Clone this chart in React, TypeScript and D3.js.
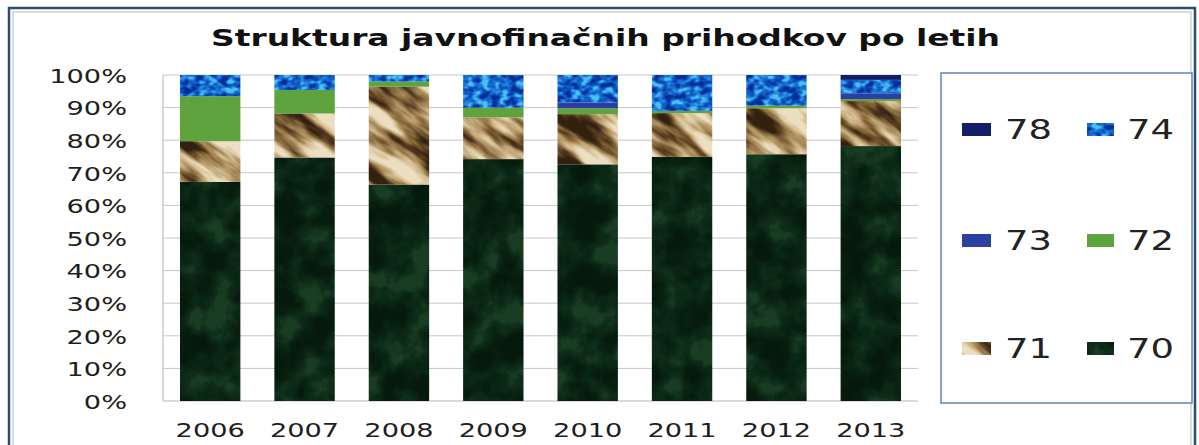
import React from 'react';
import * as d3 from 'd3';

// Revenue structure by year (share of total, %), stacked bottom to top: 70, 71, 72, 73, 74, 78
const years = ['2006', '2007', '2008', '2009', '2010', '2011', '2012', '2013'];
const share70 = [67.2, 74.7, 66.4, 74.2, 72.6, 74.9, 75.7, 78.2];
const share71 = [12.5, 13.5, 30.0, 12.8, 15.4, 13.4, 14.1, 13.8];
const share72 = [13.8, 7.2, 1.6, 3.0, 1.8, 0.7, 0.8, 0.6];
const share73 = [0, 0, 0, 0, 1.8, 0, 0, 1.8];
const share74 = [6.5, 4.6, 2.0, 10.0, 8.4, 11.0, 9.4, 4.1];
const share78 = [0, 0, 0, 0, 0, 0, 0, 1.5];
const seriesKeys = ['70', '71', '72', '73', '74', '78'];
const yTicks = [0, 10, 20, 30, 40, 50, 60, 70, 80, 90, 100];
const legendRows = [
  ['78', '74'],
  ['73', '72'],
  ['71', '70'],
];
const title = 'Struktura javnofinačnih prihodkov po letih';

const W = 1199;
const H = 445;
const FONT = 'DejaVu Sans, Verdana, sans-serif';

const fills: Record<string, string> = {
  '70': 'url(#tex70)',
  '71': 'url(#tex71)',
  '72': '#5ea33d',
  '73': '#2b40a0',
  '74': 'url(#tex74)',
  '78': '#101f68',
};

// Text drawn horizontally widened around its anchor point
function WideText(props: {
  x: number;
  y: number;
  sx: number;
  size: number;
  anchor?: string;
  weight?: string | number;
  fill?: string;
  children: React.ReactNode;
}) {
  const { x, y, sx, size, anchor = 'start', weight = 'normal', fill = '#1e1e1e', children } = props;
  return (
    <text
      transform={`translate(${x},${y}) scale(${sx},1)`}
      fontFamily={FONT}
      fontSize={size}
      fontWeight={weight}
      textAnchor={anchor}
      dominantBaseline="central"
      fill={fill}
    >
      {children}
    </text>
  );
}

export default function App() {
  const rows = years.map((year, i) => ({
    year,
    '70': share70[i],
    '71': share71[i],
    '72': share72[i],
    '73': share73[i],
    '74': share74[i],
    '78': share78[i],
  }));
  const stacked = d3.stack<any>().keys(seriesKeys)(rows);

  const x = d3.scaleBand<string>().domain(years).range([163, 918]).paddingInner(0.36).paddingOuter(0.18);
  const y = d3.scaleLinear().domain([0, 100]).range([401, 75]);

  const legendCols = [
    { sw: 962, swW: 29, tx: 1005 },
    { sw: 1087, swW: 27, tx: 1127 },
  ];
  const legendY = [130, 241, 349];

  return (
    <svg
      width={W}
      height={H}
      viewBox={`0 0 ${W} ${H}`}
      style={{ position: 'absolute', left: 0, top: 0, background: '#fff' }}
    >
      <defs>
        {/* dark green marble */}
        <filter
          id="tex70"
          filterUnits="userSpaceOnUse"
          x="0"
          y="0"
          width={W}
          height={H}
          colorInterpolationFilters="sRGB"
        >
          <feTurbulence type="fractalNoise" baseFrequency="0.03" numOctaves="4" seed="11" result="n" />
          <feColorMatrix
            in="n"
            type="matrix"
            values="2.4 0 0 0 -0.7  2.4 0 0 0 -0.7  2.4 0 0 0 -0.7  0 0 0 0 1"
            result="g"
          />
          <feComponentTransfer in="g" result="c">
            <feFuncR type="table" tableValues="0.02 0.03 0.04 0.06 0.1" />
            <feFuncG type="table" tableValues="0.1 0.12 0.15 0.18 0.24" />
            <feFuncB type="table" tableValues="0.05 0.06 0.08 0.1 0.14" />
          </feComponentTransfer>
          <feComposite in="c" in2="SourceGraphic" operator="in" />
        </filter>

        {/* blue water-drop texture */}
        <filter
          id="tex74"
          filterUnits="userSpaceOnUse"
          x="0"
          y="0"
          width={W}
          height={H}
          colorInterpolationFilters="sRGB"
        >
          <feTurbulence type="fractalNoise" baseFrequency="0.11 0.16" numOctaves="2" seed="4" result="n" />
          <feColorMatrix
            in="n"
            type="matrix"
            values="2.6 0 0 0 -0.8  2.6 0 0 0 -0.8  2.6 0 0 0 -0.8  0 0 0 0 1"
            result="g"
          />
          <feComponentTransfer in="g" result="c">
            <feFuncR type="table" tableValues="0.03 0.05 0.08 0.14 0.3" />
            <feFuncG type="table" tableValues="0.18 0.28 0.4 0.55 0.75" />
            <feFuncB type="table" tableValues="0.6 0.7 0.8 0.88 0.95" />
          </feComponentTransfer>
          <feComposite in="c" in2="SourceGraphic" operator="in" />
        </filter>

        {/* rock texture, streaked diagonally */}
        <filter
          id="rockNoise"
          filterUnits="userSpaceOnUse"
          x="0"
          y="0"
          width="1400"
          height="1400"
          colorInterpolationFilters="sRGB"
        >
          <feTurbulence
            type="fractalNoise"
            baseFrequency="0.012 0.05"
            numOctaves="4"
            seed="23"
            stitchTiles="stitch"
            result="n"
          />
          <feColorMatrix
            in="n"
            type="matrix"
            values="2.6 0 0 0 -0.75  2.6 0 0 0 -0.75  2.6 0 0 0 -0.75  0 0 0 0 1"
            result="g"
          />
          <feComponentTransfer in="g">
            <feFuncR type="table" tableValues="0.2 0.33 0.5 0.64 0.76 0.86 0.93" />
            <feFuncG type="table" tableValues="0.13 0.23 0.38 0.52 0.66 0.78 0.87" />
            <feFuncB type="table" tableValues="0.06 0.12 0.22 0.34 0.48 0.62 0.76" />
          </feComponentTransfer>
        </filter>
        <pattern
          id="tex71"
          patternUnits="userSpaceOnUse"
          width="1400"
          height="1400"
          patternTransform="rotate(35)"
        >
          <rect width="1400" height="1400" fill="#b49a76" filter="url(#rockNoise)" />
        </pattern>
      </defs>

      <rect x={0} y={0} width={W} height={H} fill="#ffffff" />

      {/* outer frame */}
      <rect x={9} y={8} width={1186} height={470} fill="none" stroke="#2f4c6b" strokeWidth={2.5} />
      <rect x={13} y={12} width={1178} height={470} fill="none" stroke="#a9bed4" strokeWidth={1} />

      {/* title */}
      <text
        x={211}
        y={46}
        fontFamily={FONT}
        fontSize={22.5}
        fontWeight="bold"
        fill="#111"
        textLength={789}
        lengthAdjust="spacingAndGlyphs"
      >
        {title}
      </text>

      {/* gridlines */}
      <g>
        {yTicks
          .filter((t) => t > 0)
          .map((t) => (
            <line
              key={t}
              x1={163}
              x2={918}
              y1={y(t)}
              y2={y(t)}
              stroke="#c6c6c6"
              strokeWidth={1}
            />
          ))}
        <line x1={163} x2={163} y1={y(100)} y2={y(0)} stroke="#b5b5b5" strokeWidth={1} />
        <line x1={163} x2={918} y1={y(0)} y2={y(0)} stroke="#b5b5b5" strokeWidth={1} />
      </g>

      {/* y axis labels */}
      <g>
        {yTicks.map((t) => (
          <WideText key={t} x={127} y={y(t) + 1} sx={1.36} size={20} anchor="end">
            {`${t}%`}
          </WideText>
        ))}
      </g>

      {/* stacked bars */}
      <g>
        {stacked.map((layer) => (
          <g key={layer.key}>
            {layer.map((d: any) => {
              const h = y(d[0]) - y(d[1]);
              if (h <= 0) return null;
              const key = layer.key;
              const isFilter = key === '70' || key === '74';
              return (
                <rect
                  key={d.data.year}
                  x={x(d.data.year)}
                  y={y(d[1])}
                  width={x.bandwidth()}
                  height={h}
                  fill={isFilter ? '#000' : fills[key]}
                  filter={isFilter ? fills[key] : undefined}
                />
              );
            })}
          </g>
        ))}
      </g>

      {/* x axis labels */}
      <g>
        {years.map((yr) => (
          <WideText key={yr} x={(x(yr) as number) + x.bandwidth() / 2} y={430} sx={1.36} size={20} anchor="middle">
            {yr}
          </WideText>
        ))}
      </g>

      {/* legend */}
      <rect x={941} y={73} width={251} height={330} fill="#fff" stroke="#5d86bb" strokeWidth={1.5} />
      {legendRows.map((row, ri) =>
        row.map((key, ci) => {
          const col = legendCols[ci];
          const cy = legendY[ri];
          const isFilter = key === '70' || key === '74';
          return (
            <g key={key}>
              <rect
                x={col.sw}
                y={cy - 7}
                width={col.swW}
                height={13}
                fill={isFilter ? '#000' : fills[key]}
                filter={isFilter ? fills[key] : undefined}
              />
              <WideText x={col.tx} y={cy} sx={1.42} size={26} fill="#222">
                {key}
              </WideText>
            </g>
          );
        })
      )}
    </svg>
  );
}
